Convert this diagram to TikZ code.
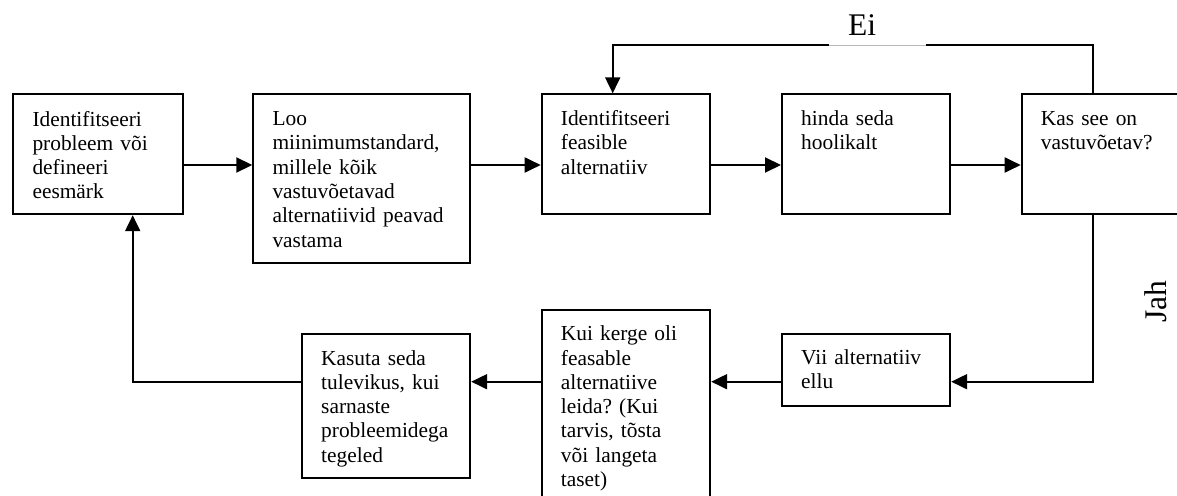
\documentclass[tikz,border=0pt]{standalone}
\usepackage{fontspec}
\setmainfont{Liberation Serif}
\usetikzlibrary{arrows.meta}
\frenchspacing
\begin{document}
\begin{tikzpicture}[x=1pt,y=-1pt,
  box/.style={draw, line width=1.9pt, rectangle, inner sep=0pt, anchor=north west},
  txt/.style={anchor=north west, inner sep=0pt, text width=200pt, align=left,
              font=\fontsize{21.4}{24.3}\selectfont},
  lbl/.style={inner sep=0pt, font=\fontsize{31.5}{36}\selectfont},
  link/.style={line width=1.9pt},
  arr/.style={link, -{Triangle[length=16pt,width=15pt]}}]
\useasboundingbox (0,0) rectangle (1177,495);
\clip (0,0) rectangle (1177,495);

% process boxes
\node[box, minimum width=169.4pt, minimum height=120pt]   (A) at (12.3,93.3)  {};
\node[box, minimum width=216.7pt, minimum height=168.4pt] (B) at (252.3,93.3) {};
\node[box, minimum width=168.6pt, minimum height=120pt]   (C) at (540.7,93.3) {};
\node[box, minimum width=168.3pt, minimum height=120pt]   (D) at (781,93.3)   {};
\node[box, minimum width=220pt,   minimum height=120pt]   (E) at (1020.7,93.3) {};
\node[box, minimum width=168.3pt, minimum height=71.7pt]  (F) at (781,333.3)  {};
\node[box, minimum width=168.6pt, minimum height=210pt]   (G) at (540.7,309)  {};
\node[box, minimum width=168.3pt, minimum height=143.4pt] (H) at (301,333.3)  {};

% box texts
\node[txt] (tA) at ([shift={(20,15.5)}]A.north west)
  {\strut Identifitseeri\\probleem või\\defineeri\\eesmärk};
\node[txt] (tB) at ([shift={(20,15)}]B.north west)
  {\strut Loo\\miinimumstandard,\\millele kõik\\vastuvõetavad\\alternatiivid peavad\\vastama};
\node[txt] (tC) at ([shift={(20,15)}]C.north west)
  {\strut Identifitseeri\\feasible\\alternatiiv};
\node[txt] (tD) at ([shift={(20,15)}]D.north west)
  {\strut hinda seda\\hoolikalt};
\node[txt] (tE) at ([shift={(20,15)}]E.north west)
  {\strut Kas see on\\vastuvõetav?};
\node[txt] (tF) at ([shift={(20,14)}]F.north west)
  {\strut Vii alternatiiv\\ellu};
\node[txt] (tG) at ([shift={(20,14.5)}]G.north west)
  {\strut Kui kerge oli\\feasable\\alternatiive\\leida? (Kui\\tarvis, tõsta\\või langeta\\taset)};
\node[txt] (tH) at ([shift={(20,14.5)}]H.north west)
  {\strut Kasuta seda\\tulevikus, kui\\sarnaste\\probleemidega\\tegeled};

% guide lines for the connectors
\coordinate (r1) at (0,165);
\coordinate (r2) at (0,381.7);
\coordinate (up) at (0,45);
\coordinate (ax) at (132.7,0);
\coordinate (cx) at (612.7,0);
\coordinate (ex) at (1092.7,0);

% top row
\draw[arr] (A.east |- r1) -- (B.west |- r1);
\draw[arr] (B.east |- r1) -- (C.west |- r1);
\draw[arr] (C.east |- r1) -- (D.west |- r1);
\draw[arr] (D.east |- r1) -- (E.west |- r1);

% "Ei" loop back
\draw[arr] (E.north -| ex) -- (ex |- up) -- (cx |- up) -- (C.north -| cx);
\fill[white] (829,22) rectangle (926,46.2);
\draw[gray!55, line width=0.6pt] (829,45) -- (926,45);
\node[lbl, anchor=base west] (ei) at (848,36) {Ei};

% "Jah" branch and bottom row
\draw[arr] (E.south -| ex) -- (ex |- r2) -- (F.east |- r2);
\draw[arr] (F.west |- r2) -- (G.east |- r2);
\draw[arr] (G.west |- r2) -- (H.east |- r2);
\draw[arr] (H.west |- r2) -- (ax |- r2) -- (A.south -| ax);
\node[lbl, rotate=90, anchor=base] (jah) at (1166.7,301.7) {Jah};
\end{tikzpicture}
\end{document}
